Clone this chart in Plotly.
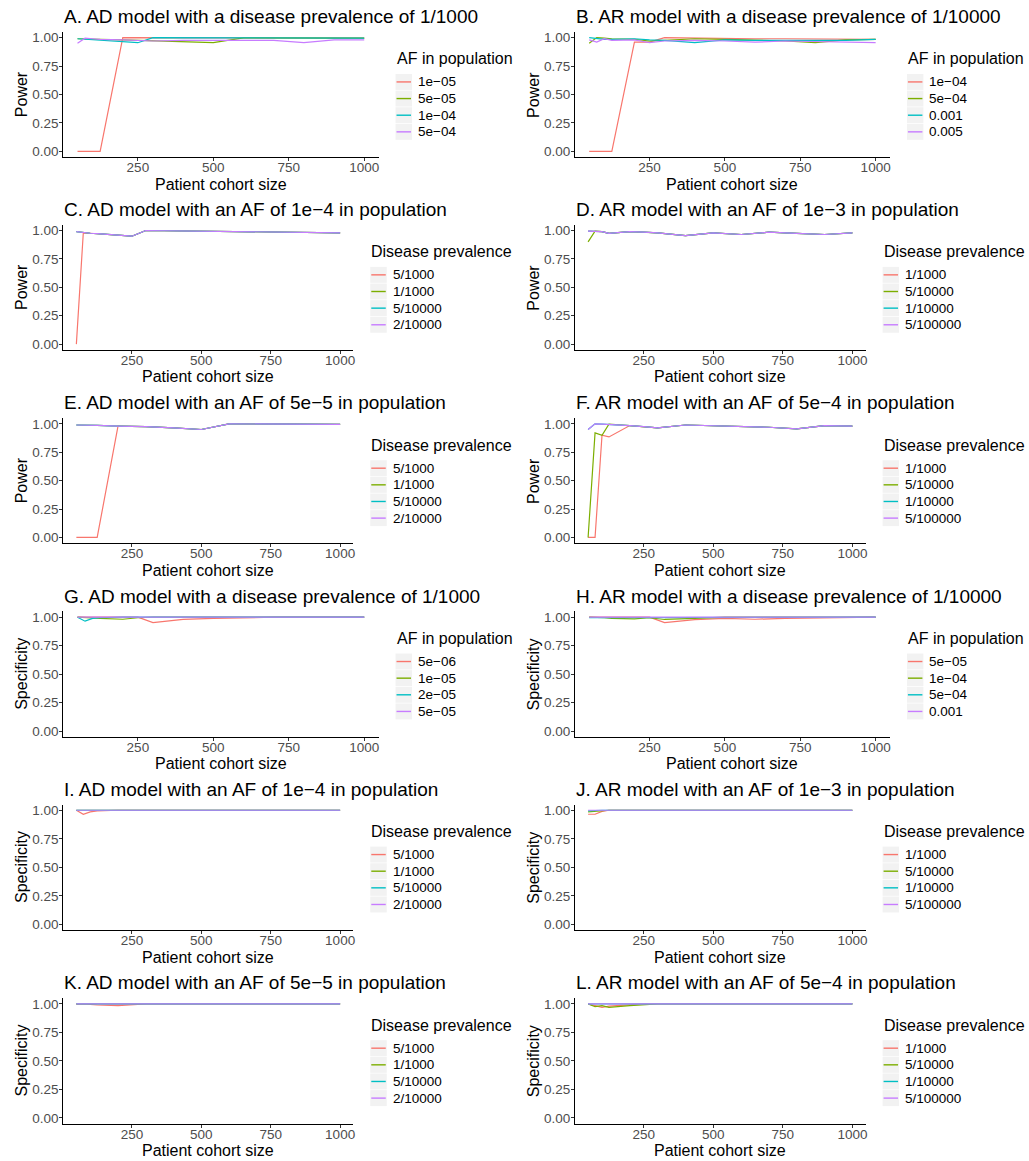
import plotly.graph_objects as go

# ---------------- data ----------------
cohort = [50, 75, 100, 125, 200, 250, 300, 400, 500, 600, 700, 800, 900, 1000]
x_ticks = [250, 500, 750, 1000]
y_ticks = [0, 0.25, 0.5, 0.75, 1.0]
y_tick_text = ["0.00", "0.25", "0.50", "0.75", "1.00"]

colors = ["#F8766D", "#7CAE00", "#00BFC4", "#C77CFF"]

# A. AD, prevalence 1/1000, power
A_labels = ["1e\u221205", "5e\u221205", "1e\u221204", "5e\u221204"]
A_1e05 = [0, 0, 0, 0, 1.0, 1.0, 1.0, 0.995, 0.995, 0.995, 0.995, 0.995, 0.995, 0.995]
A_5e05 = [0.99, 0.99, 0.99, 0.985, 0.98, 0.975, 0.97, 0.962, 0.955, 0.998, 0.997, 0.996, 0.996, 0.995]
A_1e04 = [0.99, 0.985, 0.98, 0.975, 0.965, 0.955, 1.0, 1.0, 0.998, 0.998, 0.997, 0.996, 0.995, 0.995]
A_5e04 = [0.95, 0.995, 0.99, 0.985, 0.98, 0.975, 0.97, 0.975, 0.975, 0.98, 0.975, 0.955, 0.98, 0.98]

# B. AR, prevalence 1/10000, power
B_labels = ["1e\u221204", "5e\u221204", "0.001", "0.005"]
B_1e04 = [0, 0, 0, 0, 0.96, 0.96, 1.0, 0.995, 0.99, 0.99, 0.99, 0.99, 0.985, 0.985]
B_5e04 = [0.95, 1.0, 0.995, 0.99, 0.985, 0.97, 0.975, 0.99, 0.985, 0.98, 0.97, 0.955, 0.98, 0.985]
B_0001 = [1.0, 0.99, 0.985, 0.985, 0.99, 0.98, 0.975, 0.955, 0.98, 0.975, 0.975, 0.97, 0.975, 0.985]
B_0005 = [0.98, 0.96, 0.99, 0.975, 0.98, 0.955, 0.97, 0.975, 0.97, 0.96, 0.97, 0.965, 0.96, 0.955]

# C. AD, AF 1e-4, power
C_labels = ["5/1000", "1/1000", "5/10000", "2/10000"]
C_5in1000 = [0.0, 0.98, 0.976, 0.972, 0.96, 0.95, 1.0, 0.998, 0.996, 0.994, 0.992, 0.99, 0.985, 0.98]
C_1in1000 = [0.99, 0.98, 0.976, 0.972, 0.96, 0.95, 1.0, 0.998, 0.996, 0.994, 0.992, 0.99, 0.985, 0.98]
C_5in10000 = [0.99, 0.98, 0.976, 0.972, 0.96, 0.95, 1.0, 0.998, 0.996, 0.994, 0.992, 0.99, 0.985, 0.98]
C_2in10000 = [0.99, 0.98, 0.976, 0.972, 0.96, 0.95, 1.0, 0.998, 0.996, 0.994, 0.992, 0.99, 0.985, 0.98]

# D. AR, AF 1e-3, power
D_labels = ["1/1000", "5/10000", "1/10000", "5/100000"]
D_1in1000 = [0.995, 0.992, 0.99, 0.975, 0.99, 0.985, 0.98, 0.955, 0.98, 0.965, 0.985, 0.975, 0.965, 0.98]
D_5in10000 = [0.90, 0.995, 0.99, 0.975, 0.99, 0.985, 0.98, 0.955, 0.98, 0.965, 0.985, 0.975, 0.965, 0.98]
D_1in10000 = [0.995, 0.992, 0.99, 0.975, 0.99, 0.985, 0.98, 0.955, 0.98, 0.965, 0.985, 0.975, 0.965, 0.98]
D_5in100000 = [0.995, 0.992, 0.99, 0.975, 0.99, 0.985, 0.98, 0.955, 0.98, 0.965, 0.985, 0.975, 0.965, 0.98]

# E. AD, AF 5e-5, power
E_labels = ["5/1000", "1/1000", "5/10000", "2/10000"]
E_5in1000 = [0, 0, 0, 0, 0.98, 0.978, 0.975, 0.965, 0.95, 1.0, 1.0, 0.998, 0.997, 0.995]
E_1in1000 = [0.99, 0.99, 0.988, 0.986, 0.98, 0.978, 0.975, 0.965, 0.95, 1.0, 1.0, 0.998, 0.997, 0.995]
E_5in10000 = [0.99, 0.99, 0.988, 0.986, 0.98, 0.978, 0.975, 0.965, 0.95, 1.0, 1.0, 0.998, 0.997, 0.995]
E_2in10000 = [0.99, 0.99, 0.988, 0.986, 0.98, 0.978, 0.975, 0.965, 0.95, 1.0, 1.0, 0.998, 0.997, 0.995]

# F. AR, AF 5e-4, power
F_labels = ["1/1000", "5/10000", "1/10000", "5/100000"]
F_1in1000 = [0, 0, 0.90, 0.885, 0.985, 0.975, 0.965, 0.99, 0.985, 0.98, 0.97, 0.955, 0.985, 0.98]
F_5in10000 = [0, 0.92, 0.90, 0.998, 0.985, 0.975, 0.965, 0.99, 0.985, 0.98, 0.97, 0.955, 0.985, 0.98]
F_1in10000 = [0.95, 1.0, 0.997, 0.995, 0.985, 0.975, 0.965, 0.99, 0.985, 0.98, 0.97, 0.955, 0.985, 0.98]
F_5in100000 = [0.95, 1.0, 0.997, 0.995, 0.985, 0.975, 0.965, 0.99, 0.985, 0.98, 0.97, 0.955, 0.985, 0.98]

# G. AD, prevalence 1/1000, specificity
G_labels = ["5e\u221206", "1e\u221205", "2e\u221205", "5e\u221205"]
G_5e06 = [1.0, 1.0, 1.0, 1.0, 1.0, 1.0, 0.953, 0.98, 0.99, 0.998, 1.0, 1.0, 1.0, 1.0]
G_1e05 = [1.0, 0.995, 0.99, 0.99, 0.982, 0.995, 1.0, 1.0, 1.0, 1.0, 1.0, 1.0, 1.0, 1.0]
G_2e05 = [1.0, 0.965, 0.99, 0.995, 1.0, 1.0, 1.0, 1.0, 1.0, 1.0, 1.0, 1.0, 1.0, 1.0]
G_5e05 = [1.0, 1.0, 1.0, 1.0, 1.0, 1.0, 1.0, 1.0, 1.0, 1.0, 1.0, 1.0, 1.0, 1.0]

# H. AR, prevalence 1/10000, specificity
H_labels = ["5e\u221205", "1e\u221204", "5e\u221204", "0.001"]
H_5e05 = [1.0, 1.0, 1.0, 1.0, 1.0, 1.0, 0.952, 0.978, 0.99, 0.982, 0.99, 0.995, 1.0, 1.0]
H_1e04 = [1.0, 1.0, 0.995, 0.99, 0.985, 0.995, 0.98, 0.99, 1.0, 1.0, 1.0, 1.0, 1.0, 1.0]
H_5e04 = [0.995, 0.995, 0.997, 1.0, 1.0, 1.0, 1.0, 1.0, 1.0, 1.0, 1.0, 1.0, 1.0, 1.0]
H_0001 = [1.0, 1.0, 1.0, 1.0, 1.0, 1.0, 1.0, 1.0, 1.0, 1.0, 1.0, 1.0, 1.0, 1.0]

# I. AD, AF 1e-4, specificity
I_labels = ["5/1000", "1/1000", "5/10000", "2/10000"]
I_5in1000 = [1.0, 0.965, 0.985, 0.995, 1.0, 1.0, 1.0, 1.0, 1.0, 1.0, 1.0, 1.0, 1.0, 1.0]
I_1in1000 = [1.0, 1.0, 1.0, 1.0, 1.0, 1.0, 1.0, 1.0, 1.0, 1.0, 1.0, 1.0, 1.0, 1.0]
I_5in10000 = [1.0, 1.0, 1.0, 1.0, 1.0, 1.0, 1.0, 1.0, 1.0, 1.0, 1.0, 1.0, 1.0, 1.0]
I_2in10000 = [1.0, 1.0, 1.0, 1.0, 1.0, 1.0, 1.0, 1.0, 1.0, 1.0, 1.0, 1.0, 1.0, 1.0]

# J. AR, AF 1e-3, specificity
J_labels = ["1/1000", "5/10000", "1/10000", "5/100000"]
J_1in1000 = [0.965, 0.965, 0.99, 1.0, 1.0, 1.0, 1.0, 1.0, 1.0, 1.0, 1.0, 1.0, 1.0, 1.0]
J_5in10000 = [0.985, 0.99, 1.0, 1.0, 1.0, 1.0, 1.0, 1.0, 1.0, 1.0, 1.0, 1.0, 1.0, 1.0]
J_1in10000 = [0.995, 1.0, 1.0, 1.0, 1.0, 1.0, 1.0, 1.0, 1.0, 1.0, 1.0, 1.0, 1.0, 1.0]
J_5in100000 = [1.0, 1.0, 1.0, 1.0, 1.0, 1.0, 1.0, 1.0, 1.0, 1.0, 1.0, 1.0, 1.0, 1.0]

# K. AD, AF 5e-5, specificity
K_labels = ["5/1000", "1/1000", "5/10000", "2/10000"]
K_5in1000 = [0.995, 1.0, 0.995, 0.99, 0.985, 0.995, 1.0, 1.0, 1.0, 1.0, 1.0, 1.0, 1.0, 1.0]
K_1in1000 = [1.0, 1.0, 1.0, 1.0, 1.0, 1.0, 1.0, 1.0, 1.0, 1.0, 1.0, 1.0, 1.0, 1.0]
K_5in10000 = [1.0, 1.0, 1.0, 1.0, 1.0, 1.0, 1.0, 1.0, 1.0, 1.0, 1.0, 1.0, 1.0, 1.0]
K_2in10000 = [1.0, 1.0, 1.0, 1.0, 1.0, 1.0, 1.0, 1.0, 1.0, 1.0, 1.0, 1.0, 1.0, 1.0]

# L. AR, AF 5e-4, specificity
L_labels = ["1/1000", "5/10000", "1/10000", "5/100000"]
L_1in1000 = [1.0, 0.985, 0.97, 0.98, 0.99, 1.0, 1.0, 1.0, 1.0, 1.0, 1.0, 1.0, 1.0, 1.0]
L_5in10000 = [1.0, 0.975, 0.985, 0.97, 0.985, 0.995, 1.0, 1.0, 1.0, 1.0, 1.0, 1.0, 1.0, 1.0]
L_1in10000 = [1.0, 1.0, 1.0, 1.0, 1.0, 1.0, 1.0, 1.0, 1.0, 1.0, 1.0, 1.0, 1.0, 1.0]
L_5in100000 = [1.0, 1.0, 1.0, 1.0, 1.0, 1.0, 1.0, 1.0, 1.0, 1.0, 1.0, 1.0, 1.0, 1.0]

AF_T = "AF in population"
DP_T = "Disease prevalence"
panels = [
    ("A. AD model with a disease prevalence of 1/1000", "Power", AF_T, A_labels, [A_1e05, A_5e05, A_1e04, A_5e04]),
    ("B. AR model with a disease prevalence of 1/10000", "Power", AF_T, B_labels, [B_1e04, B_5e04, B_0001, B_0005]),
    ("C. AD model with an AF of 1e\u22124 in population", "Power", DP_T, C_labels, [C_5in1000, C_1in1000, C_5in10000, C_2in10000]),
    ("D. AR model with an AF of 1e\u22123 in population", "Power", DP_T, D_labels, [D_1in1000, D_5in10000, D_1in10000, D_5in100000]),
    ("E. AD model with an AF of 5e\u22125 in population", "Power", DP_T, E_labels, [E_5in1000, E_1in1000, E_5in10000, E_2in10000]),
    ("F. AR model with an AF of 5e\u22124 in population", "Power", DP_T, F_labels, [F_1in1000, F_5in10000, F_1in10000, F_5in100000]),
    ("G. AD model with a disease prevalence of 1/1000", "Specificity", AF_T, G_labels, [G_5e06, G_1e05, G_2e05, G_5e05]),
    ("H. AR model with a disease prevalence of 1/10000", "Specificity", AF_T, H_labels, [H_5e05, H_1e04, H_5e04, H_0001]),
    ("I. AD model with an AF of 1e\u22124 in population", "Specificity", DP_T, I_labels, [I_5in1000, I_1in1000, I_5in10000, I_2in10000]),
    ("J. AR model with an AF of 1e\u22123 in population", "Specificity", DP_T, J_labels, [J_1in1000, J_5in10000, J_1in10000, J_5in100000]),
    ("K. AD model with an AF of 5e\u22125 in population", "Specificity", DP_T, K_labels, [K_5in1000, K_1in1000, K_5in10000, K_2in10000]),
    ("L. AR model with an AF of 5e\u22124 in population", "Specificity", DP_T, L_labels, [L_1in1000, L_5in10000, L_1in10000, L_5in100000]),
]

# ---------------- layout (pixel boxes) ----------------
W, H = 1029, 1161
rows_px = [(30.0, 155.7), (223.6, 349.0), (417.6, 543.0), (611.6, 737.4), (805.3, 931.4), (999.6, 1125.4)]
cols_px = {"wide_l": (63.3, 379.3), "wide_r": (576.0, 891.7), "nar_l": (63.3, 354.0), "nar_r": (576.0, 867.3)}
panel_cols = ["wide_l", "wide_r", "nar_l", "nar_r", "nar_l", "nar_r",
              "wide_l", "wide_r", "nar_l", "nar_r", "nar_l", "nar_r"]

FONT = "Liberation Sans, Arial, Helvetica, sans-serif"


def px(xp):
    return xp / W


def py(yp):
    return 1 - yp / H


fig = go.Figure()
annotations = []
shapes = []
layout_axes = {}

for i, (title, ylab, ltitle, labels, series) in enumerate(panels):
    n = i + 1
    top, bot = rows_px[i // 2]
    left, right = cols_px[panel_cols[i]]
    xa = "x" if n == 1 else f"x{n}"
    ya = "y" if n == 1 else f"y{n}"
    for k, s in enumerate(series):
        fig.add_trace(go.Scatter(x=cohort, y=s, mode="lines", xaxis=xa, yaxis=ya,
                                 line=dict(color=colors[k], width=1.2),
                                 name=labels[k], showlegend=False, hoverinfo="x+y+name"))
    xkey = "xaxis" if n == 1 else f"xaxis{n}"
    ykey = "yaxis" if n == 1 else f"yaxis{n}"
    layout_axes[xkey] = dict(domain=[px(left), px(right)], anchor=ya, range=[2.5, 1047.5],
                             tickvals=x_ticks, ticktext=[str(v) for v in x_ticks],
                             showline=True, linecolor="black", linewidth=1, mirror=False,
                             ticks="outside", ticklen=3, tickcolor="#333333", tickwidth=1,
                             ticklabelstandoff=-5,
                             showgrid=False, zeroline=False,
                             tickfont=dict(family=FONT, size=13.5, color="#4D4D4D"))
    layout_axes[ykey] = dict(domain=[py(bot), py(top)], anchor=xa, range=[-0.05, 1.05],
                             tickvals=y_ticks, ticktext=y_tick_text,
                             showline=True, linecolor="black", linewidth=1,
                             ticks="outside", ticklen=3, tickcolor="#333333", tickwidth=1,
                             ticklabelstandoff=-2,
                             showgrid=False, zeroline=False,
                             tickfont=dict(family=FONT, size=13.5, color="#4D4D4D"))
    # panel title
    annotations.append(dict(text=title, xref="paper", yref="paper", x=px(left - 1), y=py(top - 15.3),
                            xanchor="left", yanchor="middle", showarrow=False,
                            font=dict(family=FONT, size=19, color="black")))
    # axis titles
    annotations.append(dict(text="Patient cohort size", xref="paper", yref="paper",
                            x=px((left + right) / 2), y=py(bot + 27), xanchor="center", yanchor="middle",
                            showarrow=False, font=dict(family=FONT, size=16, color="black")))
    annotations.append(dict(text=ylab, xref="paper", yref="paper", textangle=-90,
                            x=px(left - 41.6), y=py((top + bot) / 2), xanchor="center", yanchor="middle",
                            showarrow=False, font=dict(family=FONT, size=16, color="black")))
    # legend (ggplot style)
    lx = right + 17
    ty = top + 27
    annotations.append(dict(text=ltitle, xref="paper", yref="paper", x=px(lx - 1), y=py(ty),
                            xanchor="left", yanchor="middle", showarrow=False,
                            font=dict(family=FONT, size=16, color="black")))
    for k, lab in enumerate(labels):
        cy = ty + 23.2 + k * 16.7
        shapes.append(dict(type="rect", xref="paper", yref="paper",
                           x0=px(lx), x1=px(lx + 16.5), y0=py(cy - 8.0), y1=py(cy + 8.0),
                           fillcolor="#F2F2F2", line=dict(width=0), layer="below"))
        shapes.append(dict(type="line", xref="paper", yref="paper",
                           x0=px(lx + 1), x1=px(lx + 15.5), y0=py(cy), y1=py(cy),
                           line=dict(color=colors[k], width=1.4)))
        annotations.append(dict(text=lab, xref="paper", yref="paper", x=px(lx + 20.5), y=py(cy),
                                xanchor="left", yanchor="middle", showarrow=False,
                                font=dict(family=FONT, size=13.5, color="black")))

fig.update_layout(width=W, height=H, margin=dict(l=0, r=0, t=0, b=0),
                  paper_bgcolor="white", plot_bgcolor="white",
                  annotations=annotations, shapes=shapes, showlegend=False,
                  font=dict(family=FONT), **layout_axes)

fig.write_html("out.html", config={"displayModeBar": False},
               post_script="document.body.style.margin='0';")
